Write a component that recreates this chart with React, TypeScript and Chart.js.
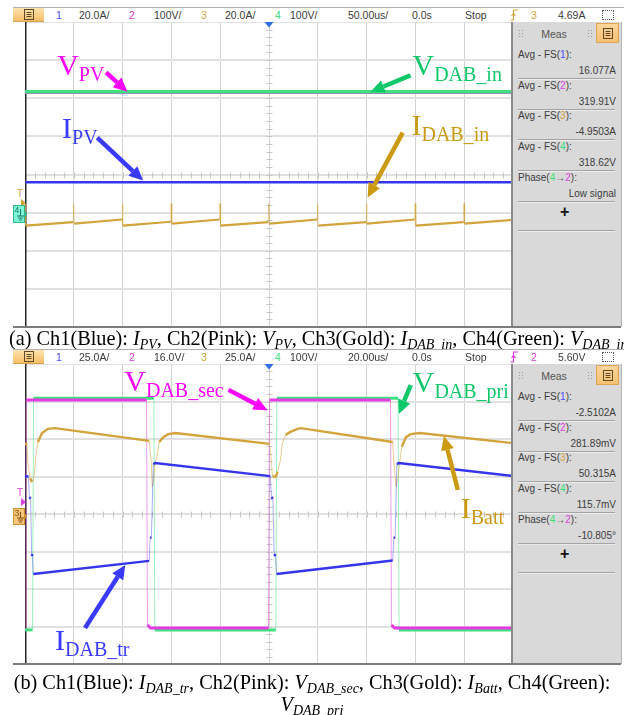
import React, { useEffect, useRef } from "react";
import { Chart, registerables } from "chart.js";

Chart.register(...registerables);

// ---------- trace data: time in µs, amplitude in screen divisions ----------

// (a) PV input side, 50 µs/div
const aTimeMin = -250;
const aTimeMax = 250;

const aVpvTime = [-250, 250];
const aVpvDiv = [2.15, 2.15];

const aVdabInTime = [-250, 250];
const aVdabInDiv = [2.17, 2.17];

const aIpvTime = [-250, 250];
const aIpvDiv = [-0.2, -0.2];

const aIdabInTime = [
  -250, -249.4, -200.6, -200.2, -199.6, -150.6, -150.2, -149.6, -100.6, -100.2, -99.6,
  -50.6, -50.2, -49.6, -0.6, -0.2, 0.4, 49.4, 49.8, 50.4, 99.4, 99.8, 100.4,
  149.4, 149.8, 150.4, 199.4, 199.8, 200.4, 250,
];
const aIdabInDiv = [
  -0.78, -1.34, -1.25, -0.76, -1.29, -1.18, -0.76, -1.34, -1.24, -0.76, -1.29,
  -1.18, -0.76, -1.34, -1.25, -0.76, -1.29, -1.18, -0.76, -1.34, -1.25, -0.76, -1.29,
  -1.18, -0.76, -1.34, -1.25, -0.76, -1.29, -1.19,
];

// (b) DAB transformer / battery side, 20 µs/div
const bTimeMin = -100;
const bTimeMax = 100;

const bVsecTime = [-100, -99.6, -50.2, -49.8, -48.5, -0.2, 0.2, 49.8, 50.2, 51.5, 99.8];
const bVsecDiv = [-3.04, 3.04, 3.04, -2.96, -3.04, -3.04, 3.04, 3.04, -2.96, -3.04, -3.04];

const bVpriTime = [-100, -96.9, -96.5, -47.2, -46.8, 2.8, 3.2, 52.9, 53.3, 100];
const bVpriDiv = [-3.09, -3.09, 3.09, 3.09, -3.09, -3.09, 3.09, 3.09, -3.09, -3.09];

const bItrTime = [
  -100, -98.6, -98.2, -97.7, -97.3, -96.9, -96.6, -49.1, -48.7, -48.2, -47.4, -46.6,
  0.5, 1.0, 1.6, 2.1, 2.7, 3.1, 50.7, 51.1, 51.7, 52.4, 53.2, 100,
];
const bItrDiv = [
  1.01, 1.0, 0.45, 0.41, -1.07, -1.12, -1.6, -1.25, -0.64, -0.62, 1.33, 1.36,
  1.01, 0.45, 0.41, -1.07, -1.12, -1.6, -1.24, -0.64, -0.62, 1.33, 1.36, 1.01,
];

const bIbattTime = [
  -100, -99.2, -98.8, -97.9, -97.1, -96.3, -95.5, -94.7, -93.0, -90.6, -87.7,
  -49.1, -48.25, -47.84, -47.3, -46.6, -45.8, -45.0, -43.3, -41.3, -38.4,
  0.2, 1.0, 1.4, 2.7, 3.5, 4.7, 5.5, 6.8, 8.8, 11.7, 13.0,
  50.7, 51.1, 52.1, 52.8, 53.6, 54.4, 56.1, 58.1, 61.8, 100,
];
const bIbattDiv = [
  1.89, 1.84, 1.36, 0.95, 0.85, 1.0, 1.57, 1.92, 2.16, 2.27, 2.29,
  1.95, 1.39, 0.72, 0.91, 1.39, 1.57, 1.92, 2.05, 2.13, 2.16,
  1.87, 1.39, 1.01, 0.99, 1.12, 1.44, 1.89, 2.11, 2.19, 2.27, 2.29,
  1.92, 1.41, 0.72, 0.96, 1.39, 1.79, 2.05, 2.13, 2.16, 1.89,
];

// ---------- status bar and measurement texts ----------

const aBarScale = ["20.0A/", "100V/", "20.0A/", "100V/"];
const aTimebase = "50.00us/";
const aTrigger = { ch: 3, level: "4.69A" };
const aMeasValues = ["16.077A", "319.91V", "-4.9503A", "318.62V", "Low signal"];

const bBarScale = ["25.0A/", "16.0V/", "25.0A/", "100V/"];
const bTimebase = "20.00us/";
const bTrigger = { ch: 2, level: "5.60V" };
const bMeasValues = ["-2.5102A", "281.89mV", "50.315A", "115.7mV", "-10.805°"];

// ---------- styling ----------

const SANS = '"Liberation Sans", Arial, sans-serif';
const SERIF = '"Liberation Serif", "Times New Roman", serif';

const CH: Record<number, string> = { 1: "#4a4aff", 2: "#e03ce0", 3: "#d3a33c", 4: "#38de7c" };

const TRACE = {
  blue: { color: "#3535ee", edge: "rgba(70,70,240,0.45)" },
  pink: { color: "#e43be4", edge: "rgba(228,59,228,0.5)" },
  gold: { color: "#d3a33c", edge: "rgba(211,163,60,0.55)" },
  green: { color: "#3fe07f", edge: "rgba(63,224,127,0.5)" },
};

const LABEL = { pink: "#ff00ff", blue: "#3a3aff", green: "#0ec86a", gold: "#cc9a10" };

type Note = { main: string; sub: string; color: string; at: number[]; tail: number[]; head: number[] };
type Series = { t: number[]; v: number[]; color: string; edge: string; width: number };

const aNotes: Note[] = [
  { main: "V", sub: "PV", color: LABEL.pink, at: [-217, 2.6], tail: [-167, 2.68], head: [-145, 2.17] },
  { main: "I", sub: "PV", color: LABEL.blue, at: [-212, 0.95], tail: [-176, 0.97], head: [-129, -0.16] },
  { main: "V", sub: "DAB_in", color: LABEL.green, at: [147, 2.6], tail: [145, 2.6], head: [104, 2.17] },
  { main: "I", sub: "DAB_in", color: LABEL.gold, at: [146, 1.03], tail: [137, 1.1], head: [101, -0.6] },
];

const bNotes: Note[] = [
  { main: "V", sub: "DAB_sec", color: LABEL.pink, at: [-59.3, 3.28], tail: [-16.6, 3.31], head: [-0.6, 2.77] },
  { main: "V", sub: "DAB_pri", color: LABEL.green, at: [58.9, 3.25], tail: [58.1, 3.44], head: [53.2, 2.67] },
  { main: "I", sub: "Batt", color: LABEL.gold, at: [78.6, -0.11], tail: [77.4, 0.64], head: [71.7, 2.08] },
  { main: "I", sub: "DAB_tr", color: LABEL.blue, at: [-87.7, -3.63], tail: [-75.4, -3.04], head: [-58.9, -1.36] },
];

// first entry is drawn on top
const aSeries: Series[] = [
  { t: aIpvTime, v: aIpvDiv, ...TRACE.blue, width: 2.5 },
  { t: aIdabInTime, v: aIdabInDiv, ...TRACE.gold, width: 2.2 },
  { t: aVdabInTime, v: aVdabInDiv, ...TRACE.green, width: 3.5 },
  { t: aVpvTime, v: aVpvDiv, ...TRACE.pink, width: 3 },
];

const bSeries: Series[] = [
  { t: bItrTime, v: bItrDiv, ...TRACE.blue, width: 2.5 },
  { t: bIbattTime, v: bIbattDiv, ...TRACE.gold, width: 2.4 },
  { t: bVsecTime, v: bVsecDiv, ...TRACE.pink, width: 3 },
  { t: bVpriTime, v: bVpriDiv, ...TRACE.green, width: 3 },
];

// fast edges are drawn thin and faint, like a scope's phosphor
const isSteep = (c: any) => Math.abs(c.p1.y - c.p0.y) > 2.5 * Math.abs(c.p1.x - c.p0.x);

function drawArrow(ctx: CanvasRenderingContext2D, x0: number, y0: number, x1: number, y1: number, color: string) {
  const ang = Math.atan2(y1 - y0, x1 - x0);
  const headLen = 14;
  const half = 6.5;
  const bx = x1 - Math.cos(ang) * headLen;
  const by = y1 - Math.sin(ang) * headLen;
  ctx.strokeStyle = color;
  ctx.lineWidth = 4.5;
  ctx.lineCap = "butt";
  ctx.beginPath();
  ctx.moveTo(x0, y0);
  ctx.lineTo(bx, by);
  ctx.stroke();
  ctx.fillStyle = color;
  ctx.beginPath();
  ctx.moveTo(x1, y1);
  ctx.lineTo(bx + Math.sin(ang) * half, by - Math.cos(ang) * half);
  ctx.lineTo(bx - Math.sin(ang) * half, by + Math.cos(ang) * half);
  ctx.closePath();
  ctx.fill();
}

function scopeDecor(notes: Note[]) {
  return {
    id: "scopeDecor",
    beforeDatasetsDraw(chart: any) {
      const { ctx, chartArea: a, scales } = chart;
      const x = scales.x;
      const y = scales.y;
      const cx = Math.round(x.getPixelForValue(0)) + 0.5;
      const cy = Math.round(y.getPixelForValue(0)) + 0.5;
      ctx.save();
      ctx.strokeStyle = "#c6c6c6";
      ctx.lineWidth = 1;
      ctx.beginPath();
      const xStep = (x.max - x.min) / 50;
      for (let i = 0; i <= 50; i++) {
        const px = Math.round(x.getPixelForValue(x.min + i * xStep)) + 0.5;
        ctx.moveTo(px, cy - 3);
        ctx.lineTo(px, cy + 3);
      }
      for (let i = 0; i <= 40; i++) {
        const py = Math.round(y.getPixelForValue(y.min + i * 0.2)) + 0.5;
        ctx.moveTo(cx - 3, py);
        ctx.lineTo(cx + 3, py);
      }
      ctx.stroke();
      ctx.strokeStyle = "#262626";
      ctx.lineWidth = 1.5;
      ctx.beginPath();
      ctx.moveTo(a.left + 0.75, a.top);
      ctx.lineTo(a.left + 0.75, a.bottom);
      ctx.stroke();
      ctx.restore();
    },
    afterDatasetsDraw(chart: any) {
      const { ctx, chartArea: a, scales } = chart;
      const x = scales.x;
      const y = scales.y;
      ctx.save();
      for (const n of notes) {
        const px = x.getPixelForValue(n.at[0]);
        const py = y.getPixelForValue(n.at[1]);
        ctx.fillStyle = n.color;
        ctx.textBaseline = "alphabetic";
        ctx.font = `30px ${SERIF}`;
        ctx.fillText(n.main, px, py);
        const w = ctx.measureText(n.main).width;
        ctx.font = `20px ${SERIF}`;
        ctx.fillText(n.sub, px + w, py + 6);
        drawArrow(
          ctx,
          x.getPixelForValue(n.tail[0]),
          y.getPixelForValue(n.tail[1]),
          x.getPixelForValue(n.head[0]),
          y.getPixelForValue(n.head[1]),
          n.color
        );
      }
      // trigger position marker
      const tx = x.getPixelForValue(0);
      ctx.fillStyle = "#2f6de0";
      ctx.beginPath();
      ctx.moveTo(tx - 4.5, a.top);
      ctx.lineTo(tx + 4.5, a.top);
      ctx.lineTo(tx, a.top + 5.5);
      ctx.closePath();
      ctx.fill();
      ctx.restore();
    },
  };
}

function ScopeChart(props: {
  left: number; top: number; width: number; height: number;
  xMin: number; xMax: number; series: Series[]; notes: Note[];
}) {
  const ref = useRef<HTMLCanvasElement>(null);
  useEffect(() => {
    const chart = new Chart(ref.current as HTMLCanvasElement, {
      type: "line",
      data: {
        datasets: props.series.map((s) => ({
          data: s.t.map((t, i) => ({ x: t, y: s.v[i] })),
          borderColor: s.color,
          borderWidth: s.width,
          pointRadius: 0,
          tension: 0,
          fill: false,
          segment: {
            borderColor: (c: any) => (isSteep(c) ? s.edge : undefined),
            borderWidth: (c: any) => (isSteep(c) ? 1 : undefined),
          },
        })),
      },
      options: {
        animation: false,
        responsive: false,
        maintainAspectRatio: false,
        events: [],
        layout: { padding: 0 },
        plugins: { legend: { display: false }, tooltip: { enabled: false } },
        scales: {
          x: {
            type: "linear",
            min: props.xMin,
            max: props.xMax,
            ticks: { display: false, stepSize: (props.xMax - props.xMin) / 10 },
            grid: { color: "#d3d3d3", lineWidth: 1, drawTicks: false },
            border: { display: false },
          },
          y: {
            type: "linear",
            min: -4,
            max: 4,
            ticks: { display: false, stepSize: 1 },
            grid: { color: "#e1e1e1", lineWidth: 2, drawTicks: false },
            border: { display: false },
          },
        },
      } as any,
      plugins: [scopeDecor(props.notes) as any],
    });
    return () => chart.destroy();
  }, []);
  return (
    <canvas
      ref={ref}
      width={props.width}
      height={props.height}
      style={{ position: "absolute", left: props.left, top: props.top, width: props.width, height: props.height }}
    />
  );
}

function MenuIcon({ left, top }: { left: number; top: number }) {
  return (
    <svg width={10} height={11} style={{ position: "absolute", left, top }}>
      <rect x={0.5} y={0.5} width={9} height={10} fill="none" stroke="#5c4a2a" />
      <path d="M2.5 3.5 H7.5 M2.5 5.5 H7.5 M2.5 7.5 H7.5" stroke="#5c4a2a" />
    </svg>
  );
}

function StatusBar(props: { top: number; scales: string[]; timebase: string; trig: { ch: number; level: string } }) {
  const text = (s: string, left: number, color = "#3a3a3a") => (
    <span key={`${s}-${left}`} style={{ position: "absolute", left: left - 13, top: 0, lineHeight: "15px", color }}>
      {s}
    </span>
  );
  const chX = [56, 129, 201, 275];
  const scX = [79, 154, 225, 290];
  return (
    <div
      style={{
        position: "absolute", left: 13, top: props.top, width: 611, height: 15,
        borderTop: "1px solid #b0b0b0", boxSizing: "border-box",
        fontFamily: SANS, fontSize: 10.5, background: "#fff",
      }}
    >
      <div
        style={{
          position: "absolute", left: 0, top: 0, width: 31, height: 14,
          background: "linear-gradient(#fde3ae, #f6bf68)", borderBottom: "1px solid #d7a050",
          boxSizing: "border-box",
        }}
      >
        <MenuIcon left={11} top={1} />
      </div>
      {props.scales.map((s, i) => [text(String(i + 1), chX[i], CH[i + 1]), text(s, scX[i])])}
      {text(props.timebase, 348)}
      {text("0.0s", 412)}
      {text("Stop", 465)}
      <svg width={9} height={12} style={{ position: "absolute", left: 497, top: 1 }}>
        <path d="M0.5 11 H3.5 V1 H8" stroke={CH[props.trig.ch]} strokeWidth={1.2} fill="none" />
        <path d="M1.5 7 L3.5 4.5 L5.5 7" stroke={CH[props.trig.ch]} strokeWidth={1.1} fill="none" />
      </svg>
      {text(String(props.trig.ch), 531, CH[props.trig.ch])}
      {text(props.trig.level, 558)}
      <div style={{ position: "absolute", left: 589, top: 2, width: 10, height: 8, border: "1px dotted #555" }} />
    </div>
  );
}

function MeasPanel(props: { top: number; height: number; values: string[] }) {
  const rows = [
    { name: "Avg - FS", chs: [1] },
    { name: "Avg - FS", chs: [2] },
    { name: "Avg - FS", chs: [3] },
    { name: "Avg - FS", chs: [4] },
    { name: "Phase", chs: [4, 2] },
  ];
  const step = 30.7;
  const dots = (left: number) => (
    <div
      style={{
        position: "absolute", left, top: 7, width: 5, height: 9,
        backgroundImage: "radial-gradient(#9a9a9a 0.8px, transparent 1px)", backgroundSize: "3px 3px",
      }}
    />
  );
  const sep = (y: number) => (
    <div
      key={`sep-${y}`}
      style={{ position: "absolute", left: 5, top: y, width: 97, height: 0, borderTop: "1px solid #a4a4a4", borderBottom: "1px solid #ececec" }}
    />
  );
  return (
    <div
      style={{
        position: "absolute", left: 511, top: props.top, width: 111, height: props.height,
        background: "#d9d9d9", borderLeft: "2px solid #8a8a8a", borderRight: "1px solid #b4b4b4",
        boxSizing: "border-box", fontFamily: SANS, fontSize: 10, color: "#3c3c3c",
      }}
    >
      {dots(5)}
      {dots(74)}
      <div style={{ position: "absolute", left: 0, width: 82, top: 5, textAlign: "center", color: "#555", lineHeight: "14px", fontSize: 10.5 }}>
        Meas
      </div>
      <div
        style={{
          position: "absolute", left: 83, top: 1, width: 23, height: 20,
          background: "linear-gradient(#fdd49a, #f8c172)", border: "1px solid #e0a458", boxSizing: "border-box",
        }}
      >
        <MenuIcon left={6} top={4} />
      </div>
      {rows.map((r, i) => (
        <React.Fragment key={i}>
          <div style={{ position: "absolute", left: 5, top: 33 + step * i - 7, lineHeight: "14px", whiteSpace: "nowrap" }}>
            {r.name}(
            {r.chs.map((c, k) => (
              <React.Fragment key={k}>
                {k > 0 ? "→" : ""}
                <span style={{ color: CH[c] }}>{c}</span>
              </React.Fragment>
            ))}
            ):
          </div>
          <div style={{ position: "absolute", right: 5, top: 49 + step * i - 7, lineHeight: "14px", whiteSpace: "nowrap" }}>
            {props.values[i]}
          </div>
          {sep(56 + step * i)}
        </React.Fragment>
      ))}
      <div style={{ position: "absolute", left: 47, top: 182, fontSize: 16, fontWeight: "bold", color: "#111", lineHeight: "16px" }}>+</div>
      {sep(208)}
    </div>
  );
}

function GroundTag(props: { x: number; y: number; h: number; n: number; fill: string; stroke: string; ink: string }) {
  const { x, y, h } = props;
  return (
    <svg width={14} height={h} style={{ position: "absolute", left: x, top: y }}>
      <rect x={0.5} y={0.5} width={11} height={h - 1} fill={props.fill} stroke={props.stroke} />
      <path d={`M12 ${h / 2 - 3} L14 ${h / 2} L12 ${h / 2 + 3} Z`} fill={props.stroke} />
      <text x={1.5} y={8} fontSize={8.5} fontFamily={SANS} fill={props.ink}>{props.n}</text>
      <path d={`M7.5 4 V${h - 7} M4 ${h - 7} H11 M5 ${h - 5} H10 M6 ${h - 3} H9`} stroke={props.ink} strokeWidth={1} fill="none" />
    </svg>
  );
}

function TrigTag(props: { x: number; y: number; color: string }) {
  return (
    <>
      <div style={{ position: "absolute", left: props.x - 4, top: props.y - 12, fontFamily: SANS, fontSize: 10, color: props.color, lineHeight: "10px" }}>T</div>
      <svg width={6} height={8} style={{ position: "absolute", left: props.x, top: props.y - 2 }}>
        <path d="M0 0 L5 4 L0 8 Z" fill={props.color} />
      </svg>
    </>
  );
}

const subStyle: React.CSSProperties = { fontSize: 14, position: "relative", top: 4, lineHeight: 0 };
function Sym({ v, s }: { v: string; s: string }) {
  return (
    <i>
      {v}
      <span style={subStyle}>{s}</span>
    </i>
  );
}

function Panel(props: {
  plotTop: number; plotH: number; xMin: number; xMax: number; series: Series[]; notes: Note[];
  scales: string[]; timebase: string; trig: { ch: number; level: string }; meas: string[];
}) {
  return (
    <>
      <StatusBar top={props.plotTop - 15} scales={props.scales} timebase={props.timebase} trig={props.trig} />
      <ScopeChart
        left={25} top={props.plotTop} width={488} height={props.plotH}
        xMin={props.xMin} xMax={props.xMax} series={props.series} notes={props.notes}
      />
      <MeasPanel top={props.plotTop} height={props.plotH} values={props.meas} />
      <div style={{ position: "absolute", left: 13, top: props.plotTop + props.plotH - 1, width: 608, height: 2, background: "#7c7c7c" }} />
    </>
  );
}

export default function App() {
  return (
    <div style={{ position: "fixed", left: 0, top: 0, width: 624, height: 715, background: "#fff", overflow: "hidden" }}>
      <Panel
        plotTop={22} plotH={305} xMin={aTimeMin} xMax={aTimeMax} series={aSeries} notes={aNotes}
        scales={aBarScale} timebase={aTimebase} trig={aTrigger} meas={aMeasValues}
      />
      <TrigTag x={21} y={201} color={CH[3]} />
      <GroundTag x={13} y={205} h={18} n={4} fill="#7cf5d8" stroke="#2fb890" ink="#1d7a63" />
      <div
        style={{
          position: "absolute", left: 9, top: 327, whiteSpace: "nowrap",
          fontFamily: SERIF, fontSize: 20.3, lineHeight: "22px", color: "#000",
        }}
      >
        (a) Ch1(Blue): <Sym v="I" s="PV" />, Ch2(Pink): <Sym v="V" s="PV" />, Ch3(Gold): <Sym v="I" s="DAB_in" />,
        Ch4(Green): <Sym v="V" s="DAB_in" />
      </div>

      <Panel
        plotTop={364} plotH={300} xMin={bTimeMin} xMax={bTimeMax} series={bSeries} notes={bNotes}
        scales={bBarScale} timebase={bTimebase} trig={bTrigger} meas={bMeasValues}
      />
      <TrigTag x={21} y={500} color={CH[2]} />
      <GroundTag x={13} y={508} h={17} n={3} fill="#f8c77a" stroke="#d0902e" ink="#7a4c10" />
      <div
        style={{
          position: "absolute", left: 0, top: 671, width: 624, textAlign: "center",
          fontFamily: SERIF, fontSize: 20.3, lineHeight: "22px", color: "#000",
        }}
      >
        (b) Ch1(Blue): <Sym v="I" s="DAB_tr" />, Ch2(Pink): <Sym v="V" s="DAB_sec" />, Ch3(Gold): <Sym v="I" s="Batt" />, Ch4(Green):
        <br />
        <Sym v="V" s="DAB_pri" />
      </div>
    </div>
  );
}
